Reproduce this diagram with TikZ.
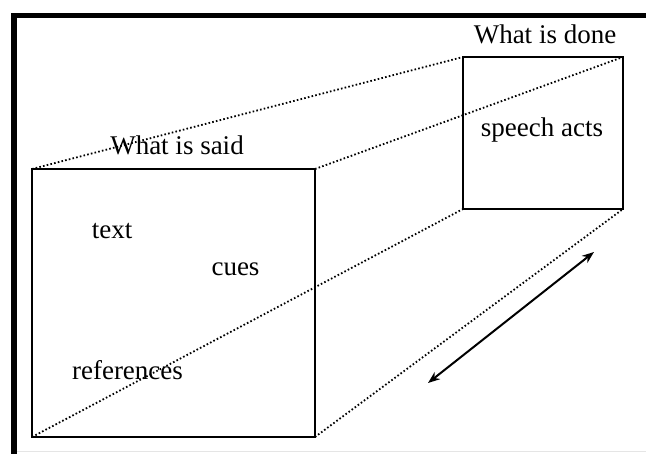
\documentclass[tikz,border=0pt]{standalone}
\usepackage{fontspec}
\setmainfont{Liberation Serif}
\usetikzlibrary{arrows.meta}
\begin{document}
\begin{tikzpicture}[x=1pt,y=-1pt,
  lbl/.style={anchor=base,inner sep=0pt,font=\fontsize{27}{32}\selectfont},
  facebox/.style={draw=black,line width=2pt,outer sep=0pt,inner sep=0pt},
  dotline/.style={line width=1.8pt,dash pattern=on 1.6pt off 2.2pt,black},
  twoway/.style={line width=2pt,{Stealth[length=12pt,width=9pt]}-{Stealth[length=12pt,width=9pt]}}]
\useasboundingbox (0,0) rectangle (646,454);
\fill[white] (0,0) rectangle (646,454);
% frame edges
\fill[black] (11,13) rectangle (646,18);
\fill[black] (11,13) rectangle (17,454);
\draw[black!10,line width=1pt] (17,452) -- (646,452);
% boxes
\node[facebox,minimum width=283pt,minimum height=268pt] (said) at (173.5,303) {};
\node[facebox,minimum width=160pt,minimum height=152pt] (done) at (543,133) {};
% perspective lines
\draw[dotline] (said.north west) -- (done.north west);
\draw[dotline] (said.north east) -- (done.north east);
\draw[dotline] (said.south west) -- (done.south west);
\draw[dotline] (said.south east) -- (done.south east);
% labels
\node[lbl] (donetitle) at (545,44) {What is done};
\node[lbl] (saidtitle) at (177,155) {What is said};
\node[lbl] (acts) at (542,137) {speech acts};
\node[lbl] (text) at (112,239) {text};
\node[lbl] (cues) at (235.5,276) {cues};
\node[lbl] (refs) at (127.5,380) {references};
% arrow
\coordinate (a1) at (428,383);
\coordinate (a2) at (594,252);
\draw[twoway] (a1) -- (a2);
\end{tikzpicture}
\end{document}
